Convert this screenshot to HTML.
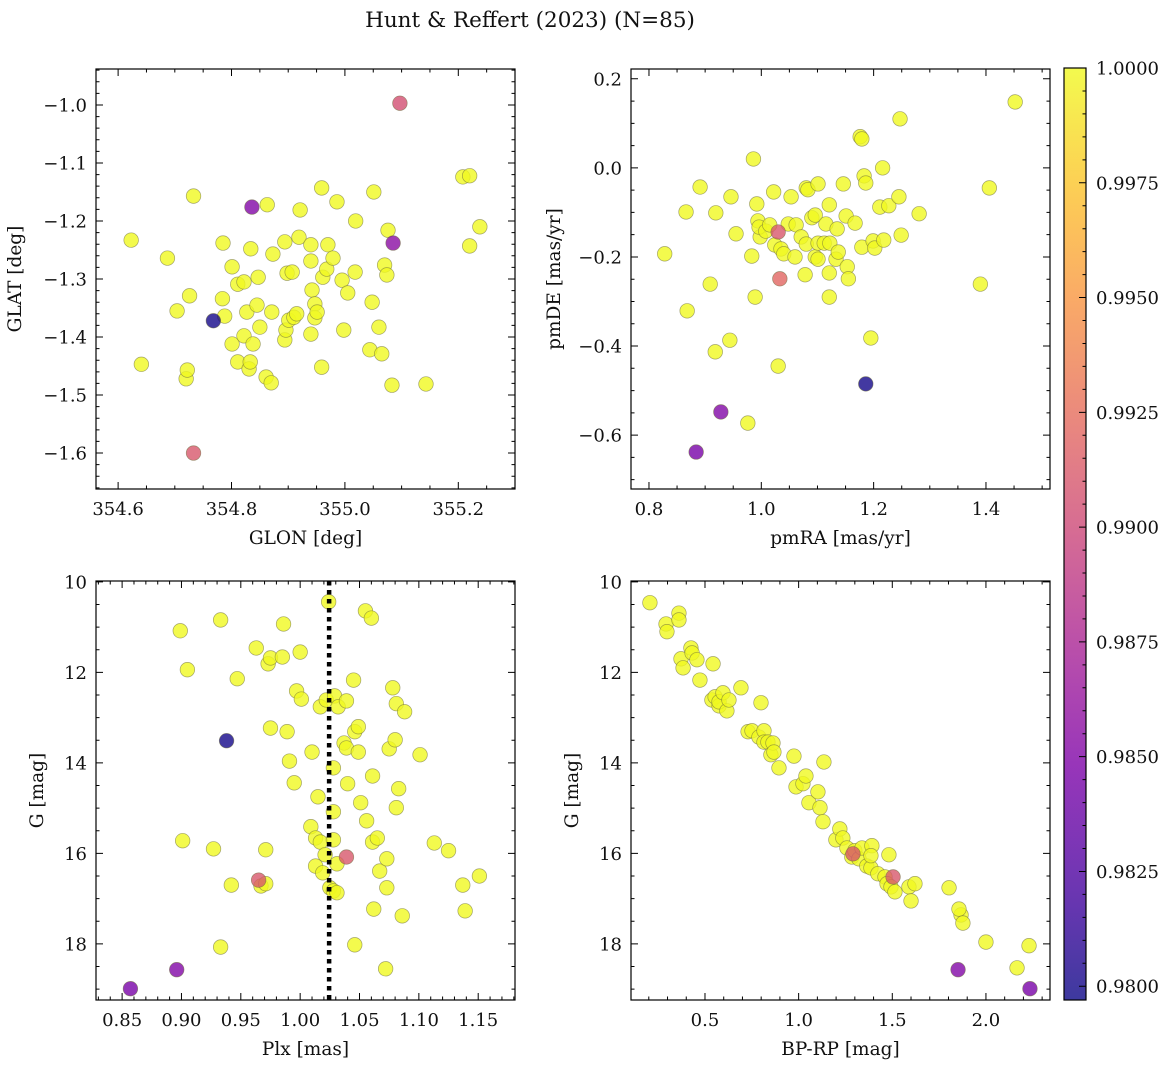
<!DOCTYPE html>
<html><head><meta charset="utf-8"><style>
body{margin:0;background:#fff;}
svg text{font-family:"DejaVu Serif","Liberation Serif",serif;fill:#111;}
</style></head><body>
<svg id="fig" width="1173" height="1068" xmlns="http://www.w3.org/2000/svg">
<text x="530" y="27" font-size="21.5" text-anchor="middle">Hunt &amp; Reffert (2023) (N=85)</text>
</svg>
<script>
// Panel 1: GLON vs GLAT
const p1X=[354.623,354.641,354.687,354.704,354.720,354.722,354.726,354.733,354.784,354.785,354.788,354.801,354.801,354.811,354.811,354.822,354.822,354.827,354.831,354.833,354.834,354.838,354.845,354.847,354.850,354.863,354.861,354.870,354.871,354.873,354.894,354.894,354.896,354.898,354.907,354.901,354.910,354.915,354.919,354.921,354.940,354.940,354.940,354.942,354.947,354.947,354.951,354.959,354.959,354.961,354.968,354.970,354.979,354.986,354.995,354.998,355.005,355.018,355.019,355.048,355.051,355.044,355.060,355.065,355.070,355.074,355.076,355.083,355.143,355.208,355.220,355.220,355.238];
const p1Y=[-1.233,-1.447,-1.264,-1.355,-1.472,-1.457,-1.329,-1.157,-1.334,-1.238,-1.364,-1.279,-1.412,-1.309,-1.443,-1.305,-1.398,-1.357,-1.455,-1.443,-1.248,-1.412,-1.345,-1.297,-1.383,-1.172,-1.469,-1.479,-1.357,-1.257,-1.236,-1.405,-1.388,-1.290,-1.288,-1.371,-1.366,-1.360,-1.228,-1.181,-1.241,-1.269,-1.395,-1.319,-1.343,-1.367,-1.357,-1.143,-1.452,-1.297,-1.283,-1.241,-1.264,-1.167,-1.302,-1.388,-1.324,-1.288,-1.200,-1.340,-1.150,-1.422,-1.383,-1.429,-1.276,-1.293,-1.216,-1.483,-1.481,-1.124,-1.122,-1.243,-1.210];
const p1SX=[354.733,354.768,354.836,355.085,355.097];
const p1SY=[-1.600,-1.372,-1.176,-1.238,-0.997];
const p1SC=[0.991,0.980,0.985,0.9855,0.9905];
// Panel 2: pmRA vs pmDE
const p2X=[0.828,0.866,0.868,0.891,0.909,0.919,0.918,0.944,0.946,0.955,0.986,0.983,0.989,0.992,0.994,0.998,0.996,1.008,1.015,1.022,1.024,1.030,1.035,1.040,1.048,1.053,1.060,1.062,1.071,1.080,1.083,1.078,1.080,1.090,1.096,1.096,1.101,1.101,1.101,1.112,1.115,1.121,1.121,1.121,1.122,1.133,1.137,1.135,1.146,1.151,1.153,1.155,1.167,1.176,1.179,1.179,1.183,1.186,1.195,1.199,1.202,1.211,1.216,1.218,1.227,1.245,1.249,1.247,1.281,1.390,1.406,1.452,0.976];
const p2Y=[-0.193,-0.099,-0.321,-0.043,-0.261,-0.101,-0.413,-0.387,-0.065,-0.148,0.020,-0.198,-0.290,-0.081,-0.119,-0.155,-0.133,-0.142,-0.128,-0.054,-0.173,-0.445,-0.182,-0.193,-0.126,-0.065,-0.200,-0.128,-0.155,-0.045,-0.049,-0.240,-0.171,-0.112,-0.106,-0.200,-0.205,-0.036,-0.169,-0.169,-0.126,-0.083,-0.236,-0.290,-0.169,-0.205,-0.189,-0.137,-0.036,-0.108,-0.222,-0.249,-0.124,0.070,0.065,-0.178,-0.018,-0.034,-0.382,-0.164,-0.180,-0.088,0.000,-0.162,-0.085,-0.065,-0.151,0.110,-0.103,-0.261,-0.045,0.148,-0.573];
const p2SX=[1.030,1.033,1.186,0.928,0.884];
const p2SY=[-0.144,-0.249,-0.485,-0.548,-0.638];
const p2SC=[0.991,0.992,0.980,0.985,0.9845];
// Panel 3: Plx vs G
const p3X=[0.899,0.901,0.905,0.927,0.933,0.933,0.942,0.947,0.963,0.967,0.971,0.971,0.973,0.975,0.975,0.985,0.986,0.989,0.991,0.995,0.997,1.000,1.001,1.009,1.010,1.013,1.013,1.015,1.017,1.017,1.019,1.021,1.022,1.024,1.025,1.028,1.028,1.028,1.028,1.029,1.031,1.031,1.032,1.037,1.039,1.039,1.040,1.045,1.046,1.046,1.049,1.049,1.051,1.055,1.056,1.060,1.061,1.061,1.062,1.065,1.067,1.072,1.073,1.073,1.075,1.078,1.080,1.081,1.081,1.083,1.086,1.088,1.101,1.113,1.125,1.137,1.139,1.151];
const p3Y=[11.08,15.72,11.94,15.90,18.07,10.84,16.70,12.14,11.46,16.72,16.67,15.92,11.81,11.68,13.23,11.66,10.93,13.31,13.96,14.44,12.41,11.55,12.59,15.41,13.76,15.66,16.28,14.75,12.76,15.75,16.43,16.03,12.61,10.44,16.76,16.83,15.08,15.70,14.11,12.52,16.87,16.23,12.76,13.56,12.63,13.67,14.46,12.17,18.02,13.31,13.76,13.20,14.88,10.64,15.28,10.80,15.75,14.29,17.23,15.66,16.39,18.55,16.76,16.12,13.69,12.34,13.49,12.69,14.99,14.57,17.38,12.87,13.82,15.77,15.94,16.70,17.27,16.50];
const p3SX=[0.857,0.896,0.938,0.965,1.039];
const p3SY=[18.99,18.57,13.51,16.59,16.08];
const p3SC=[0.9845,0.985,0.980,0.991,0.991];
const p3Line=[1.0244];
// Panel 4: BP-RP vs G
const p4X=[0.206,0.292,0.297,0.361,0.361,0.372,0.383,0.425,0.431,0.457,0.473,0.543,0.537,0.554,0.575,0.575,0.596,0.617,0.628,0.692,0.730,0.751,0.788,0.799,0.815,0.815,0.836,0.852,0.863,0.868,0.895,0.975,0.986,1.023,1.039,1.055,1.103,1.114,1.130,1.135,1.199,1.220,1.236,1.258,1.284,1.300,1.322,1.338,1.364,1.386,1.391,1.386,1.423,1.461,1.482,1.472,1.493,1.514,1.589,1.600,1.621,1.803,1.867,1.856,1.877,2.000,2.166,2.230];
const p4Y=[10.46,10.93,11.10,10.69,10.84,11.70,11.90,11.46,11.57,11.72,12.17,11.81,12.61,12.54,12.74,12.65,12.45,12.85,12.61,12.34,13.31,13.29,13.43,12.67,13.29,13.54,13.54,13.82,13.56,13.76,14.11,13.85,14.53,14.46,14.29,14.88,14.64,14.99,15.30,13.98,15.70,15.46,15.66,15.88,16.08,15.94,16.12,15.88,16.28,16.32,15.83,16.05,16.45,16.52,16.03,16.67,16.74,16.85,16.74,17.05,16.67,16.76,17.36,17.23,17.54,17.96,18.53,18.04];
const p4SX=[1.290,1.504,1.851,2.235];
const p4SY=[16.01,16.52,18.57,18.99];
const p4SC=[0.991,0.991,0.985,0.9845];
const cbTicks=[0.98,0.9825,0.985,0.9875,0.99,0.9925,0.995,0.9975,1.0];
const cMin=0.9797,cMax=1.0;

const NS="http://www.w3.org/2000/svg";
const svg=document.getElementById('fig');
const TF=18, LF=18.5;
function mk(tag,attrs,parent){const e=document.createElementNS(NS,tag);for(const k in attrs)e.setAttribute(k,attrs[k]);(parent||svg).appendChild(e);return e;}
const stops=[[0,[13,8,135]],[0.125,[75,3,161]],[0.25,[125,3,168]],[0.375,[168,34,150]],[0.5,[203,70,121]],[0.625,[229,107,93]],[0.75,[248,148,65]],[0.875,[253,195,40]],[1,[240,249,33]]];
function plasma(t){t=Math.max(0,Math.min(1,t));for(let i=1;i<stops.length;i++){if(t<=stops[i][0]){const a=stops[i-1],b=stops[i];const f=(t-a[0])/(b[0]-a[0]);const c=a[1].map((v,j)=>Math.round(v+(b[1][j]-v)*f));return `rgb(${c[0]},${c[1]},${c[2]})`;}}return 'rgb(240,249,33)';}
function cnorm(c){return (c-cMin)/(cMax-cMin);}
function fmt(v,d){return v.toFixed(d).replace('-','\u2212');}

function panel(cfg){
  const {L,T,W,H,x0,x1,y0,y1,inv,xMaj,xMin,yMaj,yMin,xd,yd,name}=cfg;
  const g=mk('g',{});  
  const sx=v=>L+(v-x0)/(x1-x0)*W;
  const sy=v=>inv?T+(v-y0)/(y1-y0)*H:T+H-(v-y0)/(y1-y0)*H;
  const ticks=(a,b,s)=>{const r=[];for(let v=Math.ceil(a/s-1e-6)*s;v<=b+1e-9;v+=s)r.push(+v.toFixed(6));return r;};
  const draw=(sxf,syf,xs,ys,c)=>{for(let i=0;i<xs.length;i++){const p=mk('circle',{cx:sxf(xs[i]),cy:syf(ys[i]),r:7.3,fill:plasma(cnorm(c[i]!==undefined?c[i]:1)),'fill-opacity':0.8,stroke:'#6b6b3a','stroke-opacity':0.6,'stroke-width':0.7},g);
    
    }};
  draw(sx,sy,cfg.xs,cfg.ys,[]);
  draw(sx,sy,cfg.sxs,cfg.sys,cfg.scs);
  if(cfg.vline){for(const v of cfg.vline){const l=mk('line',{x1:sx(v),x2:sx(v),y1:T,y2:T+H,stroke:'#000','stroke-width':4.5,'stroke-dasharray':'4.5,4.5'},g);
    
    }}
  const fr=mk('rect',{x:L,y:T,width:W,height:H,fill:'none',stroke:'#000','stroke-width':1.2},g);
  
  
  const tk=[];
  for(const v of ticks(x0,x1,xMin)){const X=sx(v);tk.push(`M${X},${T+H}v-3.5M${X},${T}v3.5`);}
  for(const v of ticks(y0,y1,yMin)){const Y=sy(v);tk.push(`M${L},${Y}h3.5M${L+W},${Y}h-3.5`);}
  for(const v of ticks(x0,x1,xMaj)){const X=sx(v);tk.push(`M${X},${T+H}v-7M${X},${T}v7`);
    const t=mk('text',{x:X,y:T+H+26,'font-size':TF,'text-anchor':'middle'},g);t.textContent=fmt(v,xd);
    
    }
  for(const v of ticks(y0,y1,yMaj)){const Y=sy(v);tk.push(`M${L},${Y}h7M${L+W},${Y}h-7`);
    const t=mk('text',{x:L-9,y:Y+6.5,'font-size':TF,'text-anchor':'end'},g);t.textContent=fmt(v,yd);
    
    }
  const tp=mk('path',{d:tk.join(''),stroke:'#000','stroke-width':1,fill:'none'},g);
  
  
  const xl=mk('text',{x:L+W/2,y:T+H+55,'font-size':LF,'text-anchor':'middle'},g);xl.textContent=cfg.xl;
  
  
  const yx=L-cfg.ylOff, yy=T+H/2;
  const yl=mk('text',{x:yx,y:yy,'font-size':LF,'text-anchor':'middle',transform:`rotate(-90 ${yx} ${yy})`},g);yl.textContent=cfg.yl;
  
  
}
panel({name:'glon-glat-panel',L:96,T:69,W:419,H:420,x0:354.561,x1:355.300,y0:-1.662,y1:-0.938,inv:false,xMaj:0.2,xMin:0.05,yMaj:0.1,yMin:0.02,xd:1,yd:1,xs:p1X,ys:p1Y,sxs:p1SX,sys:p1SY,scs:p1SC,xl:'GLON [deg]',yl:'GLAT [deg]',ylOff:75});
panel({name:'pm-panel',L:631,T:69,W:419,H:420,x0:0.768,x1:1.514,y0:-0.721,y1:0.222,inv:false,xMaj:0.2,xMin:0.05,yMaj:0.2,yMin:0.05,xd:1,yd:1,xs:p2X,ys:p2Y,sxs:p2SX,sys:p2SY,scs:p2SC,xl:'pmRA [mas/yr]',yl:'pmDE [mas/yr]',ylOff:71});
panel({name:'plx-g-panel',L:96,T:581,W:419,H:419,x0:0.828,x1:1.181,y0:9.98,y1:19.24,inv:true,xMaj:0.05,xMin:0.01,yMaj:2,yMin:0.5,xd:2,yd:0,xs:p3X,ys:p3Y,sxs:p3SX,sys:p3SY,scs:p3SC,vline:p3Line,xl:'Plx [mas]',yl:'G [mag]',ylOff:53});
panel({name:'cmd-panel',L:631,T:581,W:419,H:419,x0:0.105,x1:2.342,y0:9.98,y1:19.24,inv:true,xMaj:0.5,xMin:0.1,yMaj:2,yMin:0.5,xd:1,yd:0,xs:p4X,ys:p4Y,sxs:p4SX,sys:p4SY,scs:p4SC,xl:'BP-RP [mag]',yl:'G [mag]',ylOff:53});

// colorbar
const cb=mk('g',{});


const defs=mk('defs',{});
const lg=mk('linearGradient',{id:'cbg',x1:0,y1:1,x2:0,y2:0},defs);
for(let i=0;i<=20;i++){mk('stop',{offset:i/20,'stop-color':plasma(i/20)},lg);}
const CL=1064,CT=68,CW=22,CH=932;
mk('rect',{x:CL,y:CT,width:CW,height:CH,fill:'url(#cbg)','fill-opacity':0.8},cb);
mk('rect',{x:CL,y:CT,width:CW,height:CH,fill:'none',stroke:'#000','stroke-width':1.2},cb);
const cy=v=>CT+CH-(v-cMin)/(cMax-cMin)*CH;
let cp='';
for(let v=0.98;v<=1.00001;v+=0.0005){cp+=`M${CL+CW},${cy(v)}h-3.5`;}
for(const v of cbTicks){cp+=`M${CL+CW},${cy(v)}h-7`;
  const t=mk('text',{x:CL+CW+10,y:cy(v)+6.5,'font-size':TF},cb);t.textContent=v.toFixed(4);
  
  }
mk('path',{d:cp,stroke:'#000','stroke-width':1},cb);
</script>
</body></html>
